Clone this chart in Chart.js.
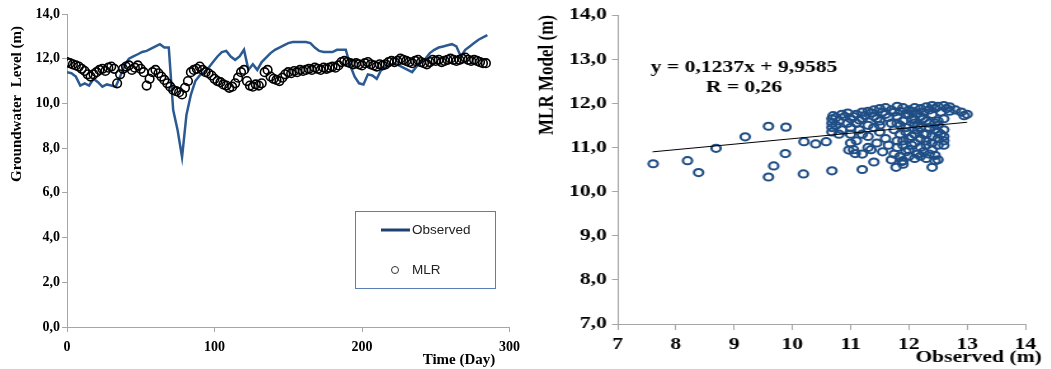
<!DOCTYPE html>
<html>
<head>
<meta charset="utf-8">
<script src="https://cdn.jsdelivr.net/npm/chart.js@4.4.1/dist/chart.umd.min.js"></script>
<style>
  body { margin: 0; background: #fff; width: 1051px; height: 369px; overflow: hidden; position: relative; }
  #left { position: absolute; left: 0; top: 0; width: 527px; height: 369px; }
  /* the right panel of the original figure is stretched sideways */
  #right { position: absolute; left: 530px; top: 0; width: 410px; height: 369px; transform: scaleX(1.27); transform-origin: 0 0; }
</style>
</head>
<body>
<div id="left"><canvas id="seriesChart"></canvas></div>
<div id="right"><canvas id="scatterChart"></canvas></div>
<script>
// ---- time series (left) ----
const days = [0, 3, 6, 9, 12, 15, 18, 21, 24, 27,
  30, 33, 36, 39, 42, 45, 48, 51, 54, 57,
  60, 63, 66, 69, 72, 75, 78, 81, 84, 87,
  90, 93, 96, 99, 102, 105, 108, 111, 114, 117,
  120, 123, 126, 129, 132, 135, 138, 141, 144, 147,
  150, 153, 156, 159, 162, 165, 168, 171, 174, 177,
  180, 183, 186, 189, 192, 195, 198, 201, 204, 207,
  210, 213, 216, 219, 222, 225, 228, 231, 234, 237,
  240, 243, 246, 249, 252, 255, 258, 261, 264, 267,
  270, 273, 276, 279, 282, 285];

const observed = [11.4, 11.35, 11.2, 10.8, 10.9, 10.8, 11.1, 10.95, 10.75, 10.85,
  10.8, 10.75, 11.2, 11.7, 12.0, 12.1, 12.2, 12.3, 12.35, 12.45,
  12.55, 12.65, 12.5, 12.5, 9.7, 8.8, 7.6, 9.5, 10.4, 11.0,
  11.25, 11.4, 11.6, 11.85, 12.1, 12.3, 12.35, 12.1, 11.95, 12.1,
  12.4, 11.5, 11.75, 11.5, 11.85, 12.05, 12.25, 12.4, 12.5, 12.6,
  12.7, 12.75, 12.75, 12.75, 12.75, 12.7, 12.5, 12.35, 12.3, 12.3,
  12.3, 12.4, 12.4, 12.4, 11.7, 11.2, 10.9, 10.85, 11.3, 11.25,
  11.1, 11.5, 11.65, 11.7, 11.8, 11.7, 11.6, 11.5, 11.4, 11.65,
  11.85, 12.0, 12.25, 12.4, 12.5, 12.55, 12.6, 12.65, 12.55, 12.1,
  12.4, 12.55, 12.7, 12.85, 12.95, 13.05];

const mlrDays = [0, 2, 4, 6, 8, 10, 12, 14, 16, 18,
  20, 22, 24, 26, 28, 30, 32, 34, 36, 38,
  40, 42, 44, 46, 48, 50, 52, 54, 56, 58,
  60, 62, 64, 66, 68, 70, 72, 74, 76, 78,
  80, 82, 84, 86, 88, 90, 92, 94, 96, 98,
  100, 102, 104, 106, 108, 110, 112, 114, 116, 118,
  120, 122, 124, 126, 128, 130, 132, 134, 136, 138,
  140, 142, 144, 146, 148, 150, 152, 154, 156, 158,
  160, 162, 164, 166, 168, 170, 172, 174, 176, 178,
  180, 182, 184, 186, 188, 190, 192, 194, 196, 198,
  200, 202, 204, 206, 208, 210, 212, 214, 216, 218,
  220, 222, 224, 226, 228, 230, 232, 234, 236, 238,
  240, 242, 244, 246, 248, 250, 252, 254, 256, 258,
  260, 262, 264, 266, 268, 270, 272, 274, 276, 278,
  280, 282, 284];

const mlr = [11.85, 11.8, 11.75, 11.7, 11.65, 11.55, 11.45, 11.3, 11.2, 11.3,
  11.4, 11.5, 11.55, 11.45, 11.6, 11.65, 11.55, 10.9, 11.3, 11.55,
  11.65, 11.7, 11.5, 11.6, 11.7, 11.55, 11.4, 10.8, 11.1, 11.4,
  11.5, 11.35, 11.2, 11.05, 10.9, 10.75, 10.6, 10.55, 10.5, 10.4,
  10.7, 11.0, 11.4, 11.5, 11.55, 11.65, 11.5, 11.4, 11.35, 11.25,
  11.1, 11.0, 10.95, 10.85, 10.8, 10.7, 10.75, 10.9, 11.15, 11.4,
  11.5, 11.0, 10.8, 10.75, 10.85, 10.8, 10.9, 11.4, 11.5, 11.2,
  11.1, 11.05, 11.0, 11.15, 11.3, 11.4, 11.35, 11.45, 11.4, 11.5,
  11.45, 11.5, 11.55, 11.5, 11.6, 11.55, 11.5, 11.6, 11.55, 11.6,
  11.65, 11.6, 11.7, 11.85, 11.9, 11.85, 11.8, 11.75, 11.8, 11.75,
  11.7, 11.8, 11.85, 11.75, 11.7, 11.65, 11.75, 11.7, 11.75, 11.85,
  11.9, 11.85, 11.9, 12.0, 11.95, 11.9, 11.85, 11.8, 11.9, 11.95,
  11.85, 11.8, 11.75, 11.85, 11.95, 11.9, 11.95, 11.85, 11.9, 11.95,
  12.0, 11.95, 11.9, 11.95, 12.0, 12.05, 11.95, 11.9, 11.95, 11.9,
  11.85, 11.8, 11.8];

const leftXTicks = ['0', '100', '200', '300'];
const leftYTicks = ['0,0', '2,0', '4,0', '6,0', '8,0', '10,0', '12,0', '14,0'];

// ---- observed vs model scatter (right) ----
const scatterObs = [
  // loose points
  7.61, 8.20, 8.39, 8.69, 9.19, 9.59, 9.89, 9.59, 9.68, 9.88, 10.20, 10.19, 10.40, 10.58, 10.68, 11.20, 11.40, 10.97, 11.08, 11.78, 12.40,
  11.88, 12.5, 11.7,
  // top band
  11.1, 11.2, 11.3, 11.4, 11.5, 11.6, 11.7, 11.8, 11.9, 12.0, 12.1, 12.2, 12.3, 12.4, 12.5, 12.6, 12.7, 12.8, 12.9, 13.0, 12.95, 12.7,
  // left column
  10.68, 10.68, 10.68, 10.68, 10.7, 10.75, 10.8, 10.85, 10.9, 10.95, 11.0, 11.0,
  // cluster body
  11.1, 11.2, 11.3, 11.4, 11.5, 11.6, 11.7, 11.8, 11.9, 12.0, 12.1, 12.2, 12.3, 12.4, 12.5, 12.6, 12.45,
  11.0, 11.15, 11.3, 11.5, 11.6, 11.75, 11.85, 11.95, 12.05, 12.15, 12.25, 12.35, 12.5, 12.6, 12.6, 12.6,
  11.0, 11.05, 11.3, 11.45, 11.55, 11.65, 11.8, 11.9, 12.0, 12.1, 12.2, 12.3, 12.4, 12.5, 11.2, 11.75,
  11.85, 11.9, 12.0, 12.1, 12.2, 12.3, 12.45, 11.9,
  11.85, 11.95, 12.05, 12.15, 12.25, 12.35, 12.45, 12.2, 12.3, 12.4,
  10.75, 10.85, 10.95, 11.05, 11.15, 11.25, 11.35, 11.45, 11.55, 11.65, 11.75, 11.85, 11.95, 12.05, 12.15, 12.25, 12.35, 12.45, 12.55, 12.65,
  11.8, 11.9, 12.0, 12.1, 12.2, 12.3, 12.4, 12.5, 12.55, 12.35, 12.25, 12.15, 12.05, 11.95, 12.45,
  12.6, 11.8, 12.1, 12.5, 11.4, 11.5, 11.2, 10.8, 11.1, 11.35
];
const scatterMlr = [
  10.63, 10.70, 10.43, 10.98, 11.24, 11.48, 11.46, 10.33, 10.58, 10.86, 11.13, 10.40, 11.08, 11.13, 10.47, 10.50, 10.67, 10.94, 10.86, 10.55, 10.55,
  10.68, 10.72, 10.72,
  11.75, 11.8, 11.82, 11.85, 11.88, 11.9, 11.85, 11.93, 11.9, 11.85, 11.9, 11.88, 11.92, 11.95, 11.93, 11.95, 11.92, 11.85, 11.8, 11.75, 11.72, 11.82,
  11.35, 11.45, 11.55, 11.65, 11.72, 11.5, 11.6, 11.4, 11.7, 11.55, 11.45, 11.65,
  11.55, 11.65, 11.5, 11.7, 11.6, 11.75, 11.55, 11.7, 11.6, 11.75, 11.55, 11.7, 11.6, 11.75, 11.5, 11.65, 11.55,
  11.3, 11.4, 11.25, 11.35, 11.2, 11.4, 11.3, 11.45, 11.25, 11.4, 11.3, 11.45, 11.35, 11.4, 11.25, 11.15,
  11.1, 10.95, 11.0, 11.1, 10.9, 11.05, 11.0, 11.15, 10.95, 11.1, 11.0, 11.15, 10.95, 11.05, 10.85, 10.85,
  10.8, 10.7, 10.8, 10.75, 10.8, 10.75, 10.7, 10.62,
  11.5, 11.35, 11.65, 11.5, 11.8, 11.55, 11.4, 11.2, 11.3, 11.25,
  11.68, 11.75, 11.78, 11.7, 11.62, 11.72, 11.78, 11.65, 11.8, 11.68, 11.8, 11.82, 11.75, 11.82, 11.78, 11.65, 11.85, 11.88, 11.8, 11.88,
  11.15, 11.05, 11.2, 11.3, 11.45, 11.05, 11.1, 11.2, 11.3, 10.85, 10.9, 10.85, 11.05, 10.9, 10.82,
  11.05, 11.55, 11.62, 11.6, 11.45, 11.5, 11.3, 11.3, 11.15, 10.95
];
// fitted line end points (y = 0,1237x + 9,9585)
const trendX = [7.6, 13.0];
const trendY = [10.90, 11.57];

const rightXTicks = ['7', '8', '9', '10', '11', '12', '13', '14'];
const rightYTicks = ['7,0', '8,0', '9,0', '10,0', '11,0', '12,0', '13,0', '14,0'];

const serif = '"Liberation Serif", "Times New Roman", serif';
const axisGrey = '#a6a6a6';
const lineBlue = '#2B5A92';
const dotBlue = '#1F4E85';

// titles and the boxed legend of the left panel
const seriesDecor = {
  id: 'seriesDecor',
  afterDraw(chart) {
    const ctx = chart.ctx;
    ctx.save();
    ctx.fillStyle = '#000';
    ctx.font = 'bold 15px ' + serif;
    ctx.textAlign = 'center';
    ctx.textBaseline = 'middle';
    ctx.fillText('Time (Day)', 459, 360);
    ctx.translate(17, 104);
    ctx.rotate(-Math.PI / 2);
    ctx.fillText('Groundwater  Level (m)', 0, 0);
    ctx.restore();

    const ds = chart.data.datasets;
    ctx.save();
    ctx.strokeStyle = '#5a7fb5';
    ctx.lineWidth = 1;
    ctx.strokeRect(355.5, 211.5, 140, 77);
    ctx.strokeStyle = '#1F3F73';
    ctx.lineWidth = 3;
    ctx.beginPath();
    ctx.moveTo(381, 230);
    ctx.lineTo(410, 230);
    ctx.stroke();
    ctx.strokeStyle = '#333';
    ctx.lineWidth = 1;
    ctx.beginPath();
    ctx.arc(395, 270, 3.5, 0, Math.PI * 2);
    ctx.stroke();
    ctx.fillStyle = '#222';
    ctx.font = '13.5px "Liberation Sans", Arial, sans-serif';
    ctx.textAlign = 'left';
    ctx.textBaseline = 'middle';
    ctx.fillText(ds[0].label, 412, 230);
    ctx.fillText(ds[1].label, 412, 270);
    ctx.restore();
  }
};

new Chart(document.getElementById('seriesChart'), {
  type: 'line',
  data: {
    datasets: [
      {
        label: 'Observed',
        data: days.map((d, i) => ({ x: d, y: observed[i] })),
        borderColor: lineBlue,
        borderWidth: 2.5,
        pointRadius: 0,
        tension: 0,
        fill: false,
        order: 2
      },
      {
        label: 'MLR',
        data: mlrDays.map((d, i) => ({ x: d, y: mlr[i] })),
        showLine: false,
        pointRadius: 4.3,
        pointBorderColor: '#000',
        pointBackgroundColor: 'rgba(0,0,0,0)',
        pointBorderWidth: 1.6,
        borderColor: '#000',
        order: 1
      }
    ]
  },
  options: {
    responsive: true,
    maintainAspectRatio: false,
    animation: false,
    layout: { padding: { left: 0, right: 11, top: 14, bottom: 0 } },
    plugins: { legend: { display: false }, tooltip: { enabled: false } },
    scales: {
      x: {
        type: 'linear',
        min: 0,
        max: 300,
        ticks: {
          stepSize: 100,
          maxRotation: 0,
          padding: 7,
          color: '#000',
          font: { family: serif, size: 14, weight: 'bold' },
          callback: (v, i) => leftXTicks[i]
        },
        grid: { drawOnChartArea: false, tickLength: 5, color: axisGrey },
        border: { color: axisGrey },
        afterFit: s => { s.height = 42; }
      },
      y: {
        min: 0,
        max: 14,
        ticks: {
          stepSize: 2,
          padding: 2,
          color: '#000',
          font: { family: serif, size: 14, weight: 'bold' },
          callback: (v, i) => leftYTicks[i]
        },
        grid: { drawOnChartArea: false, tickLength: 5, color: axisGrey },
        border: { color: axisGrey },
        afterFit: s => { s.width = 67; }
      }
    }
  },
  plugins: [seriesDecor]
});

// titles and regression text of the right panel
const scatterDecor = {
  id: 'scatterDecor',
  afterDraw(chart) {
    const ctx = chart.ctx;
    ctx.save();
    ctx.fillStyle = '#000';
    ctx.font = 'bold 17px ' + serif;
    ctx.textAlign = 'center';
    ctx.textBaseline = 'middle';
    ctx.fillText('y = 0,1237x + 9,9585', 168.5, 68);
    ctx.fillText('R = 0,26', 168.5, 88);
    ctx.textAlign = 'right';
    ctx.fillText('Observed (m)', 403, 358);
    ctx.textAlign = 'center';
    ctx.translate(13.4, 75);
    ctx.rotate(-Math.PI / 2);
    ctx.fillText('MLR Model (m)', 0, 0);
    ctx.restore();
  }
};

new Chart(document.getElementById('scatterChart'), {
  type: 'scatter',
  data: {
    datasets: [
      {
        label: 'Fit',
        data: trendX.map((x, i) => ({ x: x, y: trendY[i] })),
        showLine: true,
        borderColor: '#000',
        borderWidth: 1,
        pointRadius: 0,
        order: 0
      },
      {
        label: 'MLR vs observed',
        data: scatterObs.map((x, i) => ({ x: x, y: scatterMlr[i] })),
        pointRadius: 3.6,
        pointBorderWidth: 2,
        pointBorderColor: dotBlue,
        pointBackgroundColor: 'rgba(0,0,0,0)',
        borderColor: dotBlue,
        order: 1
      }
    ]
  },
  options: {
    responsive: true,
    maintainAspectRatio: false,
    animation: false,
    layout: { padding: { left: 0, right: 20, top: 15, bottom: 0 } },
    plugins: { legend: { display: false }, tooltip: { enabled: false } },
    scales: {
      x: {
        min: 7,
        max: 14,
        ticks: {
          stepSize: 1,
          maxRotation: 0,
          padding: 4,
          color: '#000',
          font: { family: serif, size: 17, weight: 'bold' },
          callback: (v, i) => rightXTicks[i]
        },
        grid: { drawOnChartArea: false, tickLength: 6, color: axisGrey },
        border: { color: axisGrey },
        afterFit: s => { s.height = 45; }
      },
      y: {
        min: 7,
        max: 14,
        ticks: {
          stepSize: 1,
          padding: 4,
          color: '#000',
          font: { family: serif, size: 17, weight: 'bold' },
          callback: (v, i) => rightYTicks[i]
        },
        grid: { drawOnChartArea: false, tickLength: 4.5, color: axisGrey },
        border: { color: axisGrey },
        afterFit: s => { s.width = 69; }
      }
    }
  },
  plugins: [scatterDecor]
});
</script>
</body>
</html>
